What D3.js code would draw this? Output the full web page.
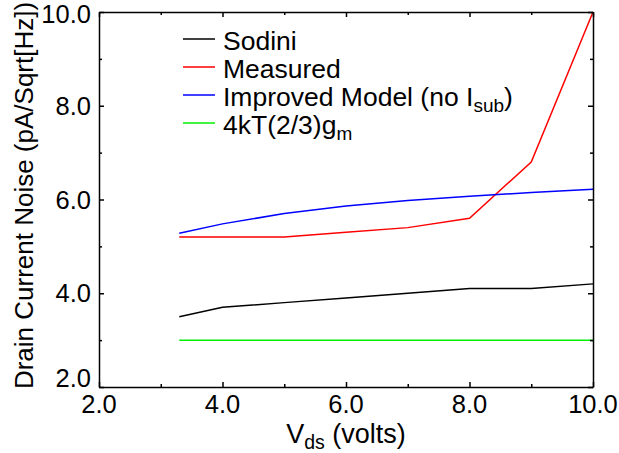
<!DOCTYPE html>
<html>
<head>
<meta charset="utf-8">
<script src="https://cdn.jsdelivr.net/npm/d3@7"></script>
<style>
  body { margin: 0; background: #fff; }
  text { font-family: "Liberation Sans", Arial, sans-serif; fill: #000; }
</style>
</head>
<body>
<div id="chart"></div>
<script>
// data
const VDS = [3.3, 4, 5, 6, 7, 8, 9, 10];
const SODINI = [3.5, 3.7, 3.8, 3.9, 4.0, 4.1, 4.1, 4.2];
const MEASURED = [5.2, 5.2, 5.2, 5.3, 5.4, 5.6, 6.8, 10.0];
const IMPROVED = [5.28, 5.48, 5.7, 5.86, 5.98, 6.07, 6.15, 6.22];
const THERMAL = [3.0, 3.0, 3.0, 3.0, 3.0, 3.0, 3.0, 3.0];

const MAJOR_TICKS = [2, 4, 6, 8, 10];
const MINOR_TICKS = [3, 5, 7, 9];

const SERIES = [
  { name: "Sodini", values: SODINI, color: "#000000" },
  { name: "Measured", values: MEASURED, color: "#ff0000" },
  { name: "Improved Model", values: IMPROVED, color: "#0000ff" },
  { name: "4kT", values: THERMAL, color: "#00f000" }
];

const WIDTH = 619;
const HEIGHT = 453;
const MARGIN = { top: 12, right: 26, bottom: 66, left: 99 };
const FONT = 25.5;

const SVG = d3.select("#chart").append("svg")
  .attr("width", WIDTH)
  .attr("height", HEIGHT);

const X = d3.scaleLinear().domain([2, 10]).range([MARGIN.left, WIDTH - MARGIN.right]);
const Y = d3.scaleLinear().domain([2, 10]).range([HEIGHT - MARGIN.bottom, MARGIN.top]);

// DATA LINES
const LINE = d3.line()
  .x((d, i) => X(VDS[i]))
  .y(d => Y(d));

SVG.selectAll("path.series")
  .data(SERIES)
  .enter()
  .append("path")
  .attr("class", "series")
  .attr("fill", "none")
  .attr("stroke", d => d.color)
  .attr("stroke-width", 1.5)
  .attr("d", d => LINE(d.values));

// FRAME + TICKS (all inward)
function tickLen(v) { return MAJOR_TICKS.includes(v) ? 5 : 3; }
const ALL_TICKS = MAJOR_TICKS.concat(MINOR_TICKS);

const axisBottom = d3.axisBottom(X).tickValues(ALL_TICKS).tickFormat("").tickSizeOuter(0);
const axisTop = d3.axisTop(X).tickValues(ALL_TICKS).tickFormat("").tickSizeOuter(0);
const axisLeft = d3.axisLeft(Y).tickValues(ALL_TICKS).tickFormat("").tickSizeOuter(0);
const axisRight = d3.axisRight(Y).tickValues(ALL_TICKS).tickFormat("").tickSizeOuter(0);

function styleAxis(g, dir) {
  g.select(".domain").attr("stroke", "#000").attr("stroke-width", 1.5);
  g.selectAll(".tick line")
    .attr("stroke", "#000")
    .attr("stroke-width", 1.5)
    .each(function(d) {
      const l = tickLen(d);
      const sel = d3.select(this);
      if (dir === "bottom") sel.attr("y2", -l);
      if (dir === "top") sel.attr("y2", l);
      if (dir === "left") sel.attr("x2", l);
      if (dir === "right") sel.attr("x2", -l);
    });
}

SVG.append("g")
  .attr("transform", `translate(0,${Y(2)})`)
  .call(axisBottom)
  .call(g => styleAxis(g, "bottom"));
SVG.append("g")
  .attr("transform", `translate(0,${Y(10)})`)
  .call(axisTop)
  .call(g => styleAxis(g, "top"));
SVG.append("g")
  .attr("transform", `translate(${X(2)},0)`)
  .call(axisLeft)
  .call(g => styleAxis(g, "left"));
SVG.append("g")
  .attr("transform", `translate(${X(10)},0)`)
  .call(axisRight)
  .call(g => styleAxis(g, "right"));

// TICK LABELS
SVG.selectAll("text.xlab")
  .data(MAJOR_TICKS)
  .enter()
  .append("text")
  .attr("class", "xlab")
  .attr("x", d => X(d))
  .attr("y", Y(2) + 26)
  .attr("text-anchor", "middle")
  .attr("font-size", FONT)
  .text(d => d.toFixed(1));

SVG.selectAll("text.ylab")
  .data(MAJOR_TICKS)
  .enter()
  .append("text")
  .attr("class", "ylab")
  .attr("x", X(2) - 8)
  // the lowest and highest labels are kept inside the frame height
  .attr("y", d => d === 2 ? Y(d) : d === 10 ? Y(d) + 11 : Y(d) + 9)
  .attr("text-anchor", "end")
  .attr("font-size", FONT)
  .text(d => d.toFixed(1));

// AXIS TITLES
const XTITLE = SVG.append("text")
  .attr("x", (X(2) + X(10)) / 2)
  .attr("y", 443)
  .attr("text-anchor", "middle")
  .attr("font-size", 27);
XTITLE.append("tspan").text("V");
XTITLE.append("tspan").attr("font-size", 19.5).attr("dy", 6).text("ds");
XTITLE.append("tspan").attr("dy", -6).text(" (volts)");

SVG.append("text")
  .attr("transform", `translate(33,${(Y(2) + Y(10)) / 2 - 4}) rotate(-90)`)
  .attr("text-anchor", "middle")
  .attr("font-size", 26)
  .text("Drain Current Noise (pA/Sqrt[Hz])");

// LEGEND
const LEGEND = SVG.append("g").attr("transform", "translate(183,39)");
const ROWS = LEGEND.selectAll("g")
  .data(SERIES)
  .enter()
  .append("g")
  .attr("transform", (d, i) => `translate(0,${i * 28})`);

ROWS.append("line")
  .attr("x1", 0)
  .attr("x2", 32)
  .attr("stroke", d => d.color)
  .attr("stroke-width", 1.5);

const LABELS = ROWS.append("text")
  .attr("x", 40)
  .attr("y", 11)
  .attr("font-size", 26.5);

LABELS.each(function(d, i) {
  const t = d3.select(this);
  if (i === 2) {
    t.append("tspan").text("Improved Model (no I");
    t.append("tspan").attr("font-size", 19).attr("dy", 6).text("sub");
    t.append("tspan").attr("dy", -6).text(")");
  } else if (i === 3) {
    t.append("tspan").text("4kT(2/3)g");
    t.append("tspan").attr("font-size", 19).attr("dy", 6).text("m");
  } else {
    t.text(d.name);
  }
});
</script>
</body>
</html>
